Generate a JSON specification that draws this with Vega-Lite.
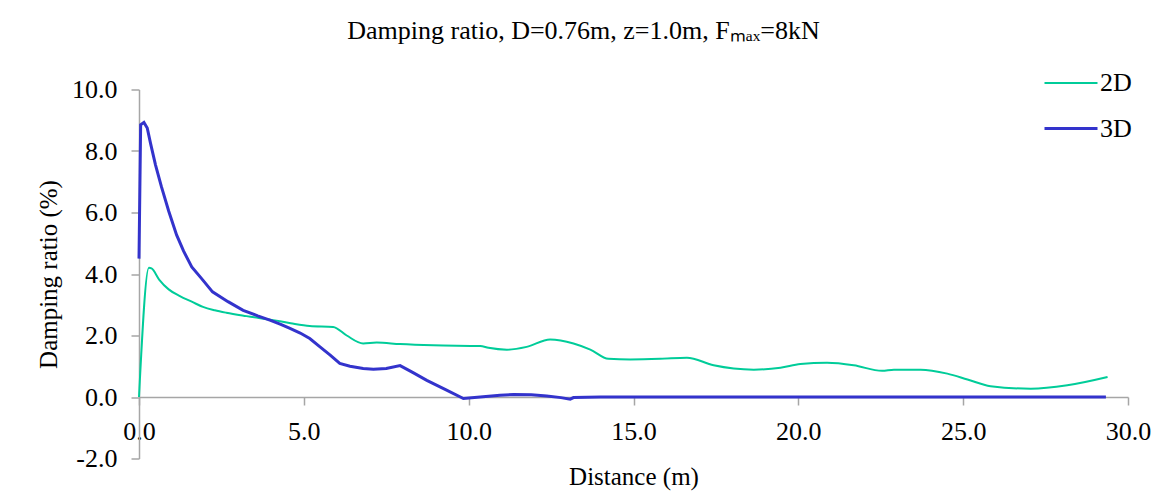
{
  "$schema": "https://vega.github.io/schema/vega-lite/v6.json",
  "width": 989,
  "height": 369,
  "autosize": {"type": "none"},
  "padding": {"left": 139, "top": 89.5, "right": 43, "bottom": 34.5},
  "background": "white",
  "config": {"font": "Liberation Serif", "view": {"stroke": null}},
  "title": {
    "text": "Damping ratio, D=0.76m, z=1.0m, Fₘₐₓ=8kN",
    "font": "Liberation Serif",
    "fontSize": 26,
    "fontWeight": "normal",
    "color": "black",
    "anchor": "middle",
    "frame": "group",
    "dx": -50,
    "offset": 12
  },
  "data": {
    "values": [
      {"series": "2D", "x": 0, "y": 0},
      {"series": "2D", "x": 0.3, "y": 4.2},
      {"series": "2D", "x": 0.38, "y": 4.18},
      {"series": "2D", "x": 0.61, "y": 3.82},
      {"series": "2D", "x": 0.9, "y": 3.5},
      {"series": "2D", "x": 1.24, "y": 3.28},
      {"series": "2D", "x": 1.6, "y": 3.1},
      {"series": "2D", "x": 1.94, "y": 2.93},
      {"series": "2D", "x": 2.3, "y": 2.82},
      {"series": "2D", "x": 2.65, "y": 2.74},
      {"series": "2D", "x": 3.26, "y": 2.63},
      {"series": "2D", "x": 4.07, "y": 2.5},
      {"series": "2D", "x": 4.6, "y": 2.4},
      {"series": "2D", "x": 5.18, "y": 2.31},
      {"series": "2D", "x": 5.89, "y": 2.28},
      {"series": "2D", "x": 6.3, "y": 2.0},
      {"series": "2D", "x": 6.8, "y": 1.74},
      {"series": "2D", "x": 7.21, "y": 1.77},
      {"series": "2D", "x": 7.92, "y": 1.72},
      {"series": "2D", "x": 8.93, "y": 1.68},
      {"series": "2D", "x": 10.35, "y": 1.66},
      {"series": "2D", "x": 10.6, "y": 1.6},
      {"series": "2D", "x": 11.16, "y": 1.54},
      {"series": "2D", "x": 11.76, "y": 1.63},
      {"series": "2D", "x": 12.47, "y": 1.87},
      {"series": "2D", "x": 13.18, "y": 1.74},
      {"series": "2D", "x": 13.69, "y": 1.54},
      {"series": "2D", "x": 14.24, "y": 1.24},
      {"series": "2D", "x": 14.9, "y": 1.22},
      {"series": "2D", "x": 15.81, "y": 1.24},
      {"series": "2D", "x": 16.62, "y": 1.28},
      {"series": "2D", "x": 17.43, "y": 1.03},
      {"series": "2D", "x": 18.65, "y": 0.89},
      {"series": "2D", "x": 19.46, "y": 0.95},
      {"series": "2D", "x": 20.06, "y": 1.07},
      {"series": "2D", "x": 20.87, "y": 1.11},
      {"series": "2D", "x": 21.68, "y": 1.03},
      {"series": "2D", "x": 22.54, "y": 0.85},
      {"series": "2D", "x": 22.9, "y": 0.89},
      {"series": "2D", "x": 23.71, "y": 0.89},
      {"series": "2D", "x": 24.52, "y": 0.76},
      {"series": "2D", "x": 25.13, "y": 0.57},
      {"series": "2D", "x": 25.83, "y": 0.35},
      {"series": "2D", "x": 27.05, "y": 0.27},
      {"series": "2D", "x": 28.16, "y": 0.38},
      {"series": "2D", "x": 29.38, "y": 0.65},
      {"series": "3D", "x": 0, "y": 4.5},
      {"series": "3D", "x": 0.05, "y": 8.85},
      {"series": "3D", "x": 0.15, "y": 8.93},
      {"series": "3D", "x": 0.25, "y": 8.75},
      {"series": "3D", "x": 0.35, "y": 8.25},
      {"series": "3D", "x": 0.5, "y": 7.55},
      {"series": "3D", "x": 0.68, "y": 6.84},
      {"series": "3D", "x": 0.9, "y": 6.05},
      {"series": "3D", "x": 1.14, "y": 5.27},
      {"series": "3D", "x": 1.35, "y": 4.75},
      {"series": "3D", "x": 1.6, "y": 4.23},
      {"series": "3D", "x": 1.9, "y": 3.85},
      {"series": "3D", "x": 2.23, "y": 3.42},
      {"series": "3D", "x": 2.7, "y": 3.1},
      {"series": "3D", "x": 3.16, "y": 2.82},
      {"series": "3D", "x": 3.6, "y": 2.64},
      {"series": "3D", "x": 3.97, "y": 2.5},
      {"series": "3D", "x": 4.3, "y": 2.36},
      {"series": "3D", "x": 4.58, "y": 2.23},
      {"series": "3D", "x": 4.89, "y": 2.08},
      {"series": "3D", "x": 5.18, "y": 1.9},
      {"series": "3D", "x": 5.49, "y": 1.63},
      {"series": "3D", "x": 5.8, "y": 1.36},
      {"series": "3D", "x": 6.09, "y": 1.09},
      {"series": "3D", "x": 6.4, "y": 1.0},
      {"series": "3D", "x": 6.8, "y": 0.93},
      {"series": "3D", "x": 7.11, "y": 0.9},
      {"series": "3D", "x": 7.5, "y": 0.93},
      {"series": "3D", "x": 7.92, "y": 1.02},
      {"series": "3D", "x": 8.3, "y": 0.8},
      {"series": "3D", "x": 8.73, "y": 0.54},
      {"series": "3D", "x": 9.3, "y": 0.24},
      {"series": "3D", "x": 9.84, "y": -0.05},
      {"series": "3D", "x": 10.35, "y": 0.0},
      {"series": "3D", "x": 10.95, "y": 0.055},
      {"series": "3D", "x": 11.36, "y": 0.08},
      {"series": "3D", "x": 11.9, "y": 0.07},
      {"series": "3D", "x": 12.37, "y": 0.03},
      {"series": "3D", "x": 12.8, "y": -0.02},
      {"series": "3D", "x": 13.08, "y": -0.07},
      {"series": "3D", "x": 13.18, "y": -0.02},
      {"series": "3D", "x": 14.0, "y": 0.0},
      {"series": "3D", "x": 29.33, "y": 0.0}
    ]
  },
  "encoding": {
    "x": {
      "field": "x",
      "type": "quantitative",
      "scale": {"domain": [0, 30], "nice": false, "zero": false},
      "axis": {
        "orient": "bottom",
        "offset": -61.5,
        "values": [0, 5, 10, 15, 20, 25, 30],
        "format": ".1f",
        "grid": false,
        "labelFont": "Liberation Serif",
        "labelFontSize": 26,
        "labelColor": "black",
        "labelPadding": 13,
        "labelFlush": false,
        "labelOverlap": false,
        "tickSize": 8,
        "tickColor": "#A6A6A6",
        "tickWidth": 1.5,
        "domainColor": "#A6A6A6",
        "domainWidth": 1.5,
        "title": "Distance (m)",
        "titleFont": "Liberation Serif",
        "titleFontSize": 25,
        "titleFontWeight": "normal",
        "titleColor": "black",
        "titlePadding": 20
      }
    },
    "y": {
      "field": "y",
      "type": "quantitative",
      "scale": {"domain": [-2, 10], "nice": false, "zero": false},
      "axis": {
        "values": [-2, 0, 2, 4, 6, 8, 10],
        "labelExpr": "replace(format(datum.value, '.1f'), '\u2212', '-')",
        "grid": false,
        "labelFont": "Liberation Serif",
        "labelFontSize": 26,
        "labelColor": "black",
        "labelPadding": 14,
        "labelOverlap": false,
        "tickSize": 8,
        "tickColor": "#A6A6A6",
        "tickWidth": 1.5,
        "domainColor": "#A6A6A6",
        "domainWidth": 1.5,
        "title": "Damping ratio (%)",
        "titleFont": "Liberation Serif",
        "titleFontSize": 25,
        "titleFontWeight": "normal",
        "titleColor": "black",
        "titlePadding": 10
      }
    },
    "color": {
      "field": "series",
      "type": "nominal",
      "scale": {"domain": ["2D", "3D"], "range": ["#00CC99", "#3333CC"]},
      "legend": {
        "title": null,
        "orient": "none",
        "legendX": 904,
        "legendY": -34,
        "padding": 0,
        "symbolType": "stroke",
        "symbolSize": 2809,
        "symbolStrokeWidth": 3,
        "labelFont": "Liberation Serif",
        "labelFontSize": 26,
        "labelColor": "black",
        "labelOffset": 1,
        "rowPadding": 4
      }
    },
    "strokeWidth": {
      "field": "series",
      "type": "nominal",
      "scale": {"domain": ["2D", "3D"], "range": [2, 3]},
      "legend": null
    }
  },
  "layer": [
    {
      "transform": [{"filter": "datum.series === '2D'"}],
      "mark": {"type": "line", "interpolate": "monotone"}
    },
    {
      "transform": [{"filter": "datum.series === '3D'"}],
      "mark": {"type": "line", "interpolate": "linear"}
    }
  ]
}
